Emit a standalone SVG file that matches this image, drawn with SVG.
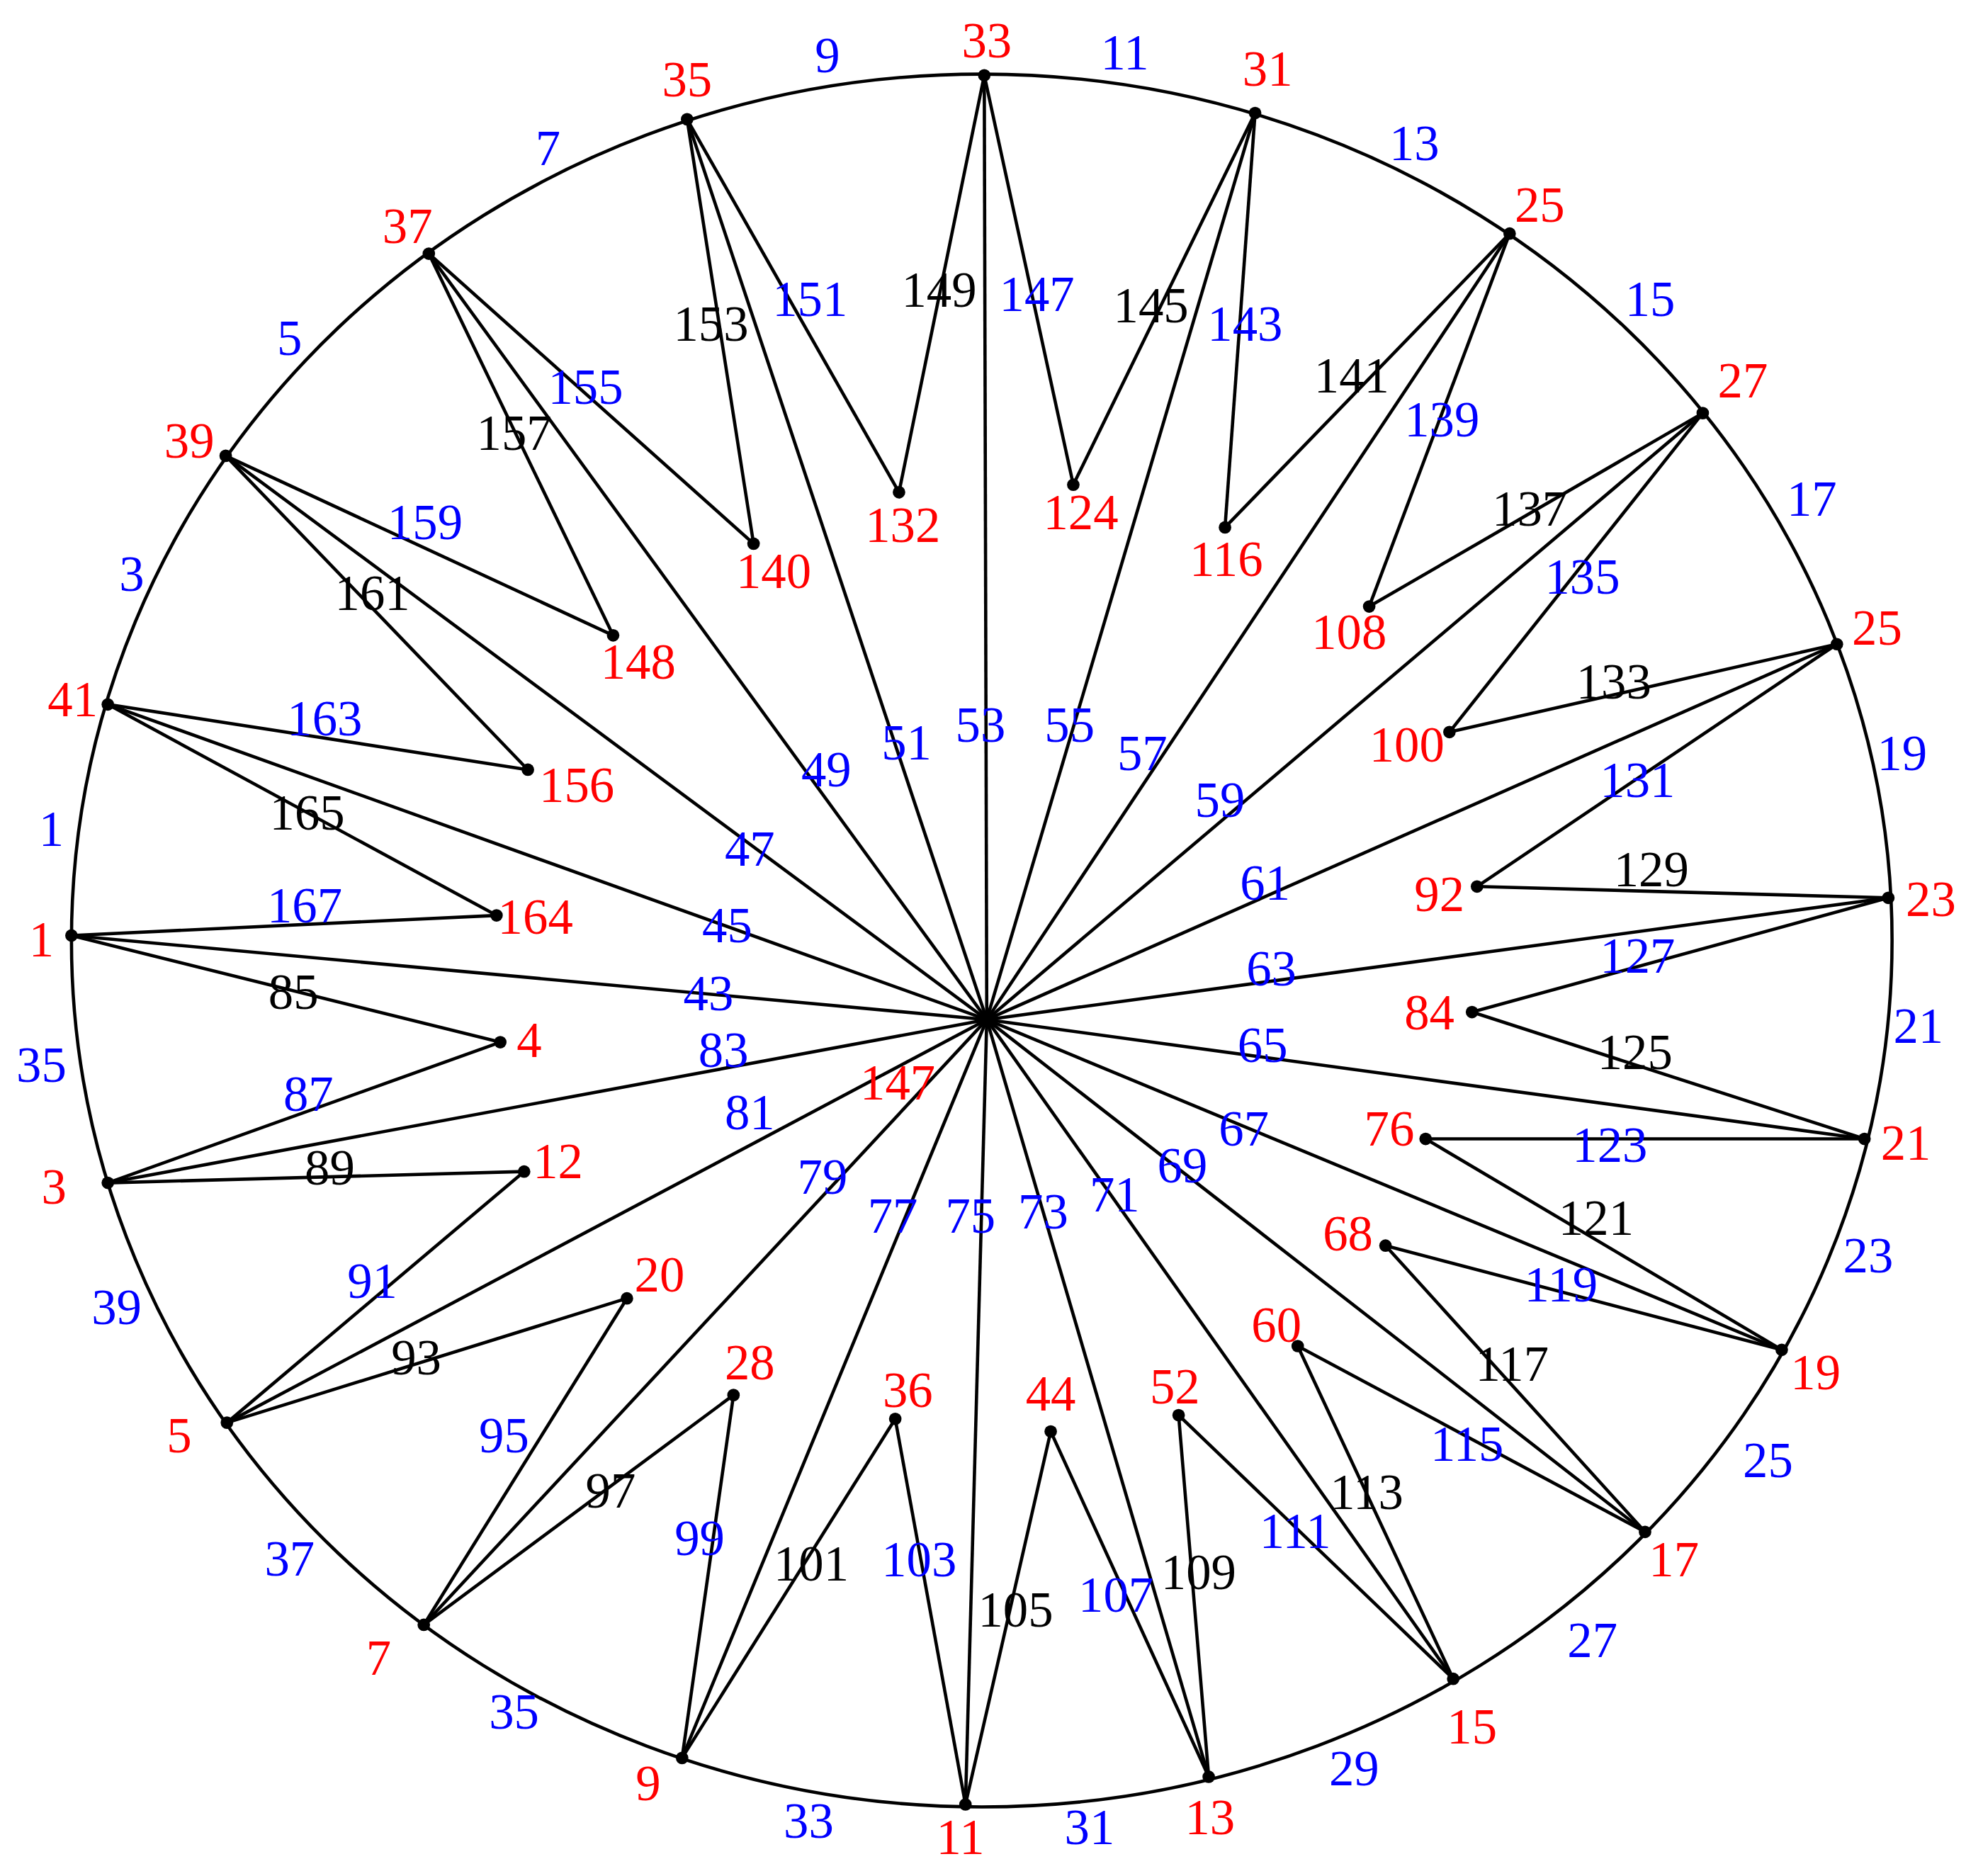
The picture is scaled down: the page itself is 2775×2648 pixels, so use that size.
<svg xmlns="http://www.w3.org/2000/svg" width="2775" height="2648" viewBox="0 0 2775 2648">
<style>
text{font-family:"Liberation Serif","Times New Roman",serif;font-size:40px;text-anchor:middle;dominant-baseline:central}
.r{fill:#ff0000}.b{fill:#0000ff}.k{fill:#000}
.e line{stroke:#000;stroke-width:2.6}
circle{fill:#000}
</style>
<rect width="2775" height="2648" fill="#fff"/>
<g transform="scale(1.7698,1.7724)">
<ellipse cx="783" cy="749" rx="726" ry="690" fill="none" stroke="#000" stroke-width="2.6"/>
<g id="connectors" class="e">
<line x1="787" y1="812" x2="785" y2="60"/><line x1="787" y1="812" x2="1001" y2="90"/><line x1="787" y1="812" x2="1204" y2="186"/><line x1="787" y1="812" x2="1358" y2="329"/><line x1="787" y1="812" x2="1465" y2="513"/><line x1="787" y1="812" x2="1506" y2="715"/><line x1="787" y1="812" x2="1487" y2="907"/><line x1="787" y1="812" x2="1421" y2="1075"/><line x1="787" y1="812" x2="1312" y2="1220"/><line x1="787" y1="812" x2="1159" y2="1337"/><line x1="787" y1="812" x2="964" y2="1415"/><line x1="787" y1="812" x2="770" y2="1437"/><line x1="787" y1="812" x2="544" y2="1400"/><line x1="787" y1="812" x2="338" y2="1294"/><line x1="787" y1="812" x2="181" y2="1133"/><line x1="787" y1="812" x2="86" y2="942"/><line x1="787" y1="812" x2="57" y2="745"/><line x1="787" y1="812" x2="86" y2="561"/><line x1="787" y1="812" x2="180" y2="363"/><line x1="787" y1="812" x2="342" y2="202"/><line x1="787" y1="812" x2="548" y2="95"/>
<line x1="548" y1="95" x2="717" y2="392"/><line x1="785" y1="60" x2="717" y2="392"/><line x1="785" y1="60" x2="856" y2="386"/><line x1="1001" y1="90" x2="856" y2="386"/><line x1="1001" y1="90" x2="977" y2="420"/><line x1="1204" y1="186" x2="977" y2="420"/><line x1="1204" y1="186" x2="1092" y2="483"/><line x1="1358" y1="329" x2="1092" y2="483"/><line x1="1358" y1="329" x2="1156" y2="583"/><line x1="1465" y1="513" x2="1156" y2="583"/><line x1="1465" y1="513" x2="1178" y2="706"/><line x1="1506" y1="715" x2="1178" y2="706"/><line x1="1506" y1="715" x2="1174" y2="806"/><line x1="1487" y1="907" x2="1174" y2="806"/><line x1="1487" y1="907" x2="1137" y2="907"/><line x1="1421" y1="1075" x2="1137" y2="907"/><line x1="1421" y1="1075" x2="1105" y2="992"/><line x1="1312" y1="1220" x2="1105" y2="992"/><line x1="1312" y1="1220" x2="1035" y2="1072"/><line x1="1159" y1="1337" x2="1035" y2="1072"/><line x1="1159" y1="1337" x2="940" y2="1127"/><line x1="964" y1="1415" x2="940" y2="1127"/><line x1="964" y1="1415" x2="838" y2="1140"/><line x1="770" y1="1437" x2="838" y2="1140"/><line x1="770" y1="1437" x2="714" y2="1130"/><line x1="544" y1="1400" x2="714" y2="1130"/><line x1="544" y1="1400" x2="585" y2="1111"/><line x1="338" y1="1294" x2="585" y2="1111"/><line x1="338" y1="1294" x2="500" y2="1034"/><line x1="181" y1="1133" x2="500" y2="1034"/><line x1="181" y1="1133" x2="418" y2="933"/><line x1="86" y1="942" x2="418" y2="933"/><line x1="86" y1="942" x2="399" y2="830"/><line x1="57" y1="745" x2="399" y2="830"/><line x1="57" y1="745" x2="396" y2="729"/><line x1="86" y1="561" x2="396" y2="729"/><line x1="86" y1="561" x2="421" y2="613"/><line x1="180" y1="363" x2="421" y2="613"/><line x1="180" y1="363" x2="489" y2="506"/><line x1="342" y1="202" x2="489" y2="506"/><line x1="342" y1="202" x2="601" y2="433"/><line x1="548" y1="95" x2="601" y2="433"/>
</g>
<g id="nodes">
<circle cx="787" cy="812" r="5"/>
<circle cx="785" cy="60" r="5"/><circle cx="1001" cy="90" r="5"/><circle cx="1204" cy="186" r="5"/><circle cx="1358" cy="329" r="5"/><circle cx="1465" cy="513" r="5"/><circle cx="1506" cy="715" r="5"/><circle cx="1487" cy="907" r="5"/><circle cx="1421" cy="1075" r="5"/><circle cx="1312" cy="1220" r="5"/><circle cx="1159" cy="1337" r="5"/><circle cx="964" cy="1415" r="5"/><circle cx="770" cy="1437" r="5"/><circle cx="544" cy="1400" r="5"/><circle cx="338" cy="1294" r="5"/><circle cx="181" cy="1133" r="5"/><circle cx="86" cy="942" r="5"/><circle cx="57" cy="745" r="5"/><circle cx="86" cy="561" r="5"/><circle cx="180" cy="363" r="5"/><circle cx="342" cy="202" r="5"/><circle cx="548" cy="95" r="5"/>
<circle cx="717" cy="392" r="5"/><circle cx="856" cy="386" r="5"/><circle cx="977" cy="420" r="5"/><circle cx="1092" cy="483" r="5"/><circle cx="1156" cy="583" r="5"/><circle cx="1178" cy="706" r="5"/><circle cx="1174" cy="806" r="5"/><circle cx="1137" cy="907" r="5"/><circle cx="1105" cy="992" r="5"/><circle cx="1035" cy="1072" r="5"/><circle cx="940" cy="1127" r="5"/><circle cx="838" cy="1140" r="5"/><circle cx="714" cy="1130" r="5"/><circle cx="585" cy="1111" r="5"/><circle cx="500" cy="1034" r="5"/><circle cx="418" cy="933" r="5"/><circle cx="399" cy="830" r="5"/><circle cx="396" cy="729" r="5"/><circle cx="421" cy="613" r="5"/><circle cx="489" cy="506" r="5"/><circle cx="601" cy="433" r="5"/>
</g>
<g id="labels">
<text class="r" x="787" y="32">33</text><text class="r" x="1011" y="55">31</text><text class="r" x="1228" y="163">25</text><text class="r" x="1390" y="303">27</text><text class="r" x="1497" y="500">25</text><text class="r" x="1540" y="716">23</text><text class="r" x="1520" y="910">21</text><text class="r" x="1448" y="1093">19</text><text class="r" x="1335" y="1242">17</text><text class="r" x="1174" y="1375">15</text><text class="r" x="965" y="1447">13</text><text class="r" x="766" y="1463">11</text><text class="r" x="517" y="1420">9</text><text class="r" x="302" y="1320">7</text><text class="r" x="143" y="1143">5</text><text class="r" x="43" y="945">3</text><text class="r" x="33" y="748">1</text><text class="r" x="58" y="557">41</text><text class="r" x="151" y="351">39</text><text class="r" x="325" y="180">37</text><text class="r" x="548" y="63">35</text>
<text class="b" x="660" y="44">9</text><text class="b" x="897" y="42">11</text><text class="b" x="1128" y="114">13</text><text class="b" x="1316" y="238">15</text><text class="b" x="1445" y="397">17</text><text class="b" x="1517" y="600">19</text><text class="b" x="1530" y="817">21</text><text class="b" x="1490" y="1000">23</text><text class="b" x="1410" y="1163">25</text><text class="b" x="1270" y="1306">27</text><text class="b" x="1080" y="1408">29</text><text class="b" x="869" y="1455">31</text><text class="b" x="645" y="1450">33</text><text class="b" x="410" y="1363">35</text><text class="b" x="231" y="1241">37</text><text class="b" x="93" y="1041">39</text><text class="b" x="33" y="848">35</text><text class="b" x="41" y="660">1</text><text class="b" x="105" y="457">3</text><text class="b" x="231" y="269">5</text><text class="b" x="437" y="118">7</text>
<text class="r" x="720" y="418">132</text><text class="r" x="862" y="408">124</text><text class="r" x="978" y="445">116</text><text class="r" x="1076" y="503">108</text><text class="r" x="1122" y="593">100</text><text class="r" x="1148" y="712">92</text><text class="r" x="1140" y="806">84</text><text class="r" x="1108" y="899">76</text><text class="r" x="1075" y="982">68</text><text class="r" x="1018" y="1055">60</text><text class="r" x="937" y="1104">52</text><text class="r" x="838" y="1110">44</text><text class="r" x="724" y="1107">36</text><text class="r" x="598" y="1085">28</text><text class="r" x="526" y="1015">20</text><text class="r" x="445" y="925">12</text><text class="r" x="422" y="828">4</text><text class="r" x="427" y="730">164</text><text class="r" x="460" y="625">156</text><text class="r" x="509" y="527">148</text><text class="r" x="617" y="455">140</text><text class="r" x="716" y="862">147</text>
<text class="b" x="646" y="238">151</text><text class="k" x="749" y="231">149</text><text class="b" x="827" y="234">147</text><text class="k" x="918" y="243">145</text><text class="b" x="993" y="258">143</text><text class="k" x="1078" y="299">141</text><text class="b" x="1150" y="334">139</text><text class="k" x="1220" y="405">137</text><text class="b" x="1262" y="459">135</text><text class="k" x="1287" y="543">133</text><text class="b" x="1306" y="621">131</text><text class="k" x="1317" y="692">129</text><text class="b" x="1306" y="761">127</text><text class="k" x="1304" y="838">125</text><text class="b" x="1284" y="912">123</text><text class="k" x="1273" y="970">121</text><text class="b" x="1245" y="1023">119</text><text class="k" x="1206" y="1086">117</text><text class="b" x="1170" y="1150">115</text><text class="k" x="1090" y="1188">113</text><text class="b" x="1033" y="1219">111</text><text class="k" x="956" y="1252">109</text><text class="b" x="890" y="1270">107</text><text class="k" x="810" y="1282">105</text><text class="b" x="733" y="1242">103</text><text class="k" x="647" y="1245">101</text><text class="b" x="558" y="1225">99</text><text class="k" x="487" y="1187">97</text><text class="b" x="402" y="1143">95</text><text class="k" x="332" y="1081">93</text><text class="b" x="297" y="1020">91</text><text class="k" x="263" y="930">89</text><text class="b" x="246" y="871">87</text><text class="k" x="234" y="790">85</text><text class="b" x="243" y="721">167</text><text class="k" x="245" y="647">165</text><text class="b" x="259" y="572">163</text><text class="k" x="297" y="472">161</text><text class="b" x="339" y="416">159</text><text class="k" x="410" y="345">157</text><text class="b" x="467" y="308">155</text><text class="k" x="567" y="258">153</text>
<text class="b" x="565" y="791">43</text><text class="b" x="580" y="737">45</text><text class="b" x="598" y="676">47</text><text class="b" x="659" y="613">49</text><text class="b" x="723" y="591">51</text><text class="b" x="782" y="577">53</text><text class="b" x="853" y="577">55</text><text class="b" x="911" y="600">57</text><text class="b" x="973" y="637">59</text><text class="b" x="1009" y="703">61</text><text class="b" x="1014" y="771">63</text><text class="b" x="1007" y="832">65</text><text class="b" x="992" y="899">67</text><text class="b" x="943" y="928">69</text><text class="b" x="889" y="951">71</text><text class="b" x="832" y="965">73</text><text class="b" x="774" y="968">75</text><text class="b" x="712" y="968">77</text><text class="b" x="656" y="937">79</text><text class="b" x="598" y="886">81</text><text class="b" x="577" y="836">83</text>
</g>
</g>
</svg>
